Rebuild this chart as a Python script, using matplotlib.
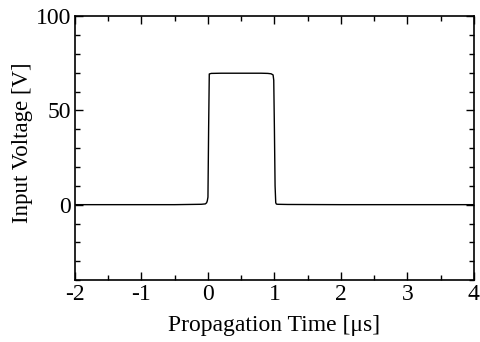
import matplotlib
matplotlib.use("Agg")
import matplotlib.pyplot as plt
from matplotlib.ticker import MultipleLocator

plt.rcParams['font.family'] = ['Liberation Serif', 'DejaVu Serif']

# Waveform (time in microseconds, voltage in V)
time_us = [-2.0, -1.0, -0.5, -0.1, -0.04, -0.02, -0.01, 0.0, 0.01, 0.02, 0.05,
           0.2, 0.5, 0.8, 0.9, 0.95, 0.98, 0.99, 1.0, 1.01, 1.02, 1.03, 1.05,
           1.2, 2.0, 3.0, 4.0]
voltage_v = [0.0, 0.0, 0.0, 0.2, 0.4, 1.0, 2.0, 4.0, 40.0, 69.3, 69.6,
             69.7, 69.7, 69.7, 69.6, 69.4, 68.8, 66.0, 40.0, 10.0, 1.0, 0.3, 0.2,
             0.1, 0.0, 0.0, 0.0]

x_ticks = [-2, -1, 0, 1, 2, 3, 4]
y_ticks = [0, 50, 100]

fig = plt.figure(figsize=(4.81, 3.42), dpi=100)
ax = fig.add_axes([0.156, 0.181, 0.829, 0.772])
ax.plot(time_us, voltage_v, color='black', lw=1.0)

ax.set_xlim(-2, 4)
ax.set_ylim(-40, 100)
ax.set_xticks(x_ticks)
ax.set_xticklabels([str(t) for t in x_ticks])
ax.set_yticks(y_ticks)
ax.xaxis.set_minor_locator(MultipleLocator(0.5))
ax.yaxis.set_minor_locator(MultipleLocator(10))
ax.tick_params(which='both', direction='in', top=True, right=True, labelsize=17, width=1, pad=3)
ax.tick_params(which='major', length=6)
ax.tick_params(which='minor', length=3.5)
for s in ax.spines.values():
    s.set_linewidth(1.2)

ax.set_xlabel('Propagation Time [μs]', fontsize=17, labelpad=7)
ax.set_ylabel('Input Voltage [V]', fontsize=16.5)
ax.yaxis.set_label_coords(-0.105, 0.52)

fig.savefig('out.png', dpi=100)
